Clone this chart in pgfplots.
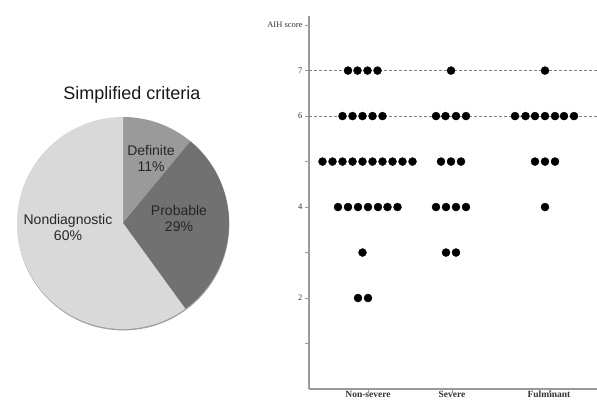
\documentclass[border=0pt]{standalone}
\usepackage{pgfplots}
\pgfplotsset{compat=1.18}
\usepackage{pgfplotstable}
\usepackage{fontspec}
\setmainfont{Liberation Sans}
\newfontfamily\seriffont{Liberation Serif}
\definecolor{cDef}{HTML}{9A9A9A}
\definecolor{cProb}{HTML}{717171}
\definecolor{cNon}{HTML}{D9D9D9}
\definecolor{axgray}{HTML}{9A9A9A}

% pie shares (percent)
\def\vDef{11}
\def\vProb{29}
\def\vNon{60}

\pgfplotstableread{
x y
3.9 7
4.85 7
5.85 7
6.85 7
3.35 6
4.35 6
5.35 6
6.35 6
7.35 6
1.35 5
2.35 5
3.35 5
4.35 5
5.35 5
6.35 5
7.35 5
8.35 5
9.35 5
10.35 5
2.9 4
3.9 4
4.9 4
5.9 4
6.9 4
7.85 4
8.85 4
5.35 3
4.9 2
5.9 2
}\nonsevere
\pgfplotstableread{
x y
14.2 7
12.7 6
13.65 6
14.7 6
15.7 6
13.2 5
14.2 5
15.2 5
12.7 4
13.7 4
14.7 4
15.7 4
13.7 3
14.7 3
}\severe
\pgfplotstableread{
x y
23.6 7
20.6 6
21.65 6
22.6 6
23.6 6
24.6 6
25.5 6
26.5 6
22.6 5
23.6 5
24.6 5
23.6 4
}\fulminant

\begin{document}
\begin{tikzpicture}[x=1pt,y=1pt]
\useasboundingbox (0,0) rectangle (597,403);

% ---------- pie chart ----------
\begin{axis}[
  at={(17pt,74pt)}, anchor=south west, scale only axis,
  width=212pt, height=212pt,
  xmin=-1, xmax=1, ymin=-1, ymax=1,
  hide axis, clip=false,
]
\pgfmathsetmacro{\aA}{90}
\pgfmathsetmacro{\aB}{90-3.6*\vDef}
\pgfmathsetmacro{\aC}{\aB-3.6*\vProb}
\pgfmathsetmacro{\aD}{\aC-3.6*\vNon}
\fill[gray!75] ([xshift=0.3pt,yshift=-1.4pt]axis cs:0,0) circle[radius=106pt];
\fill[cDef] (axis cs:0,0) -- ++(\aA:106pt) arc[start angle=\aA, end angle=\aB, radius=106pt] -- cycle;
\fill[cProb] (axis cs:0,0) -- ++(\aB:106pt) arc[start angle=\aB, end angle=\aC, radius=106pt] -- cycle;
\fill[cNon] (axis cs:0,0) -- ++(\aC:106pt) arc[start angle=\aC, end angle=\aD, radius=106pt] -- cycle;
\node[font=\fontsize{14}{16}\selectfont, align=center, text=black!85] at ([xshift=28pt,yshift=65pt]axis cs:0,0) {Definite\\\vDef\%};
\node[font=\fontsize{14}{16}\selectfont, align=center, text=black!85] at ([xshift=56pt,yshift=4pt]axis cs:0,0) {Probable\\\vProb\%};
\node[font=\fontsize{14}{16}\selectfont, align=center, text=black!85] at ([xshift=-55pt,yshift=-5pt]axis cs:0,0) {Nondiagnostic\\\vNon\%};
\node[font=\fontsize{18}{20}\selectfont, text=black!90, anchor=base] at ([xshift=9pt,yshift=123pt]axis cs:0,0) {Simplified criteria};
\end{axis}

% ---------- dot plot ----------
\begin{axis}[
  at={(309pt,14pt)}, anchor=south west, scale only axis,
  width=288pt, height=373pt,
  xmin=0, xmax=28.8, ymin=0, ymax=8.2,
  axis x line*=bottom, axis y line*=left,
  axis line style={axgray, line width=1.4pt},
  ytick={1,2,3,4,5,6,7,8},
  yticklabels={,2,,4,,6,7,AIH score},
  xtick={5.9,14.3,24.0},
  xticklabels={Non-severe,Severe,Fulminant},
  tick align=outside, major tick length=4pt,
  tick style={axgray, line width=0.8pt},
  yticklabel style={font=\seriffont\fontsize{8.5}{10}\selectfont, text=black!80, xshift=1pt},
  xticklabel style={font=\seriffont\bfseries\fontsize{9.5}{11}\selectfont, text=black!80, yshift=3.5pt, inner sep=1pt, text height=7pt, text depth=0pt},
  clip=false,
]
\addplot[gray, densely dashed, line width=0.8pt] coordinates {(0,7) (28.8,7)};
\addplot[gray, densely dashed, line width=0.8pt] coordinates {(0,6) (28.8,6)};
\addplot[only marks, mark=*, mark size=4pt, black] table[x=x,y=y] {\nonsevere};
\addplot[only marks, mark=*, mark size=4pt, black] table[x=x,y=y] {\severe};
\addplot[only marks, mark=*, mark size=4pt, black] table[x=x,y=y] {\fulminant};
\end{axis}
\end{tikzpicture}
\end{document}
